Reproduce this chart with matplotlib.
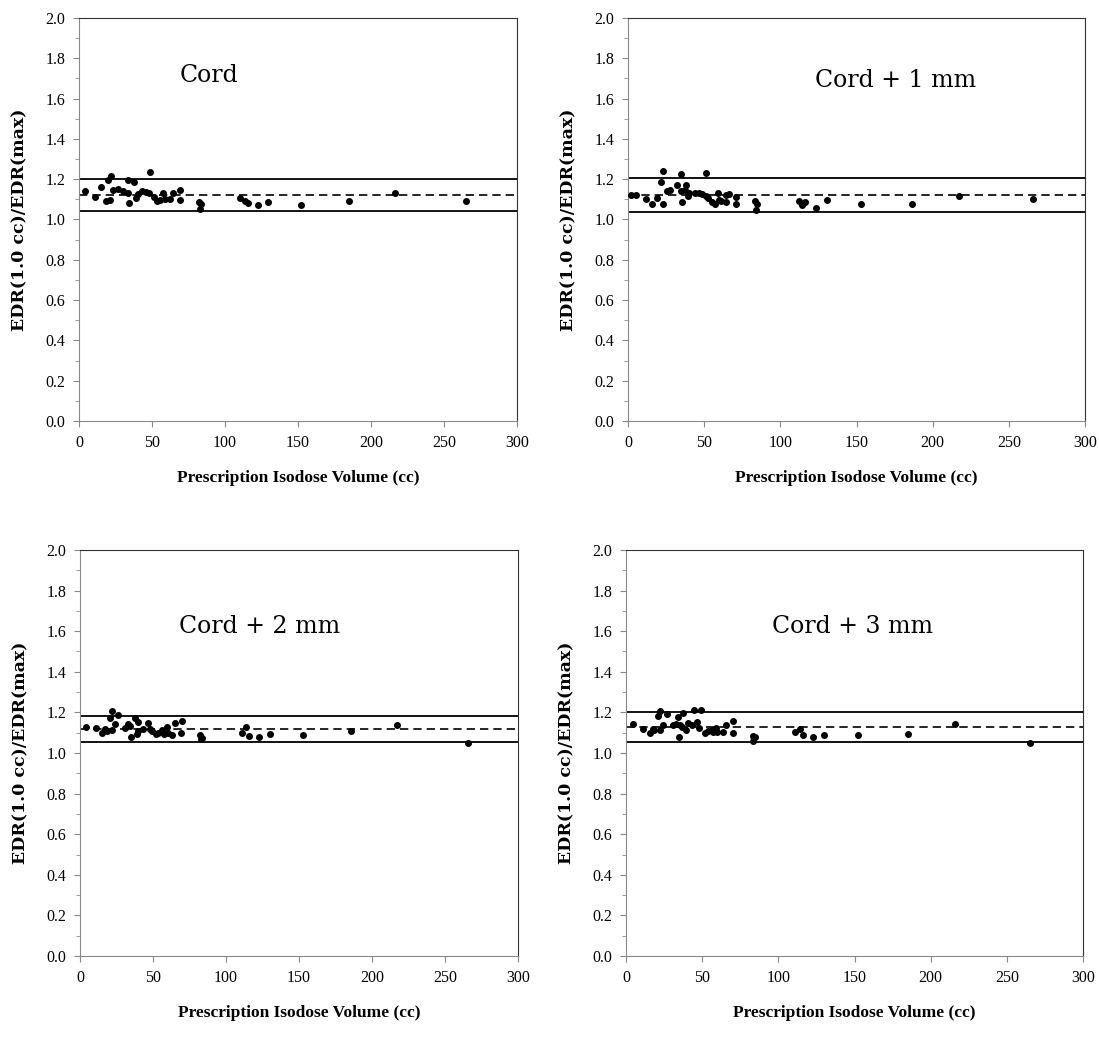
import matplotlib.pyplot as plt
from matplotlib.ticker import MultipleLocator

plt.rcParams['font.family'] = ['Liberation Serif', 'DejaVu Serif']

# --- data ---
titles = ["Cord", "Cord + 1 mm", "Cord + 2 mm", "Cord + 3 mm"]

x_cord = [4.1, 11, 15, 18.3, 20, 21.7, 21.2, 23.5, 26.5, 30.3, 33.8, 33.8, 34.5, 37.7,
          39, 40.6, 42.9, 45.7, 48.6, 48, 51.6, 53.2, 55.5, 57.7, 58.8, 62.3, 64.6,
          69.4, 69.4, 82.2, 83.6, 82.9, 110.3, 113.7, 116, 122.4, 129.2, 152, 185,
          216.4, 264.9]
y_cord = [1.14, 1.11, 1.16, 1.09, 1.195, 1.215, 1.095, 1.145, 1.15, 1.14, 1.195, 1.13,
          1.08, 1.185, 1.105, 1.125, 1.14, 1.135, 1.235, 1.13, 1.11, 1.09, 1.095,
          1.13, 1.10, 1.10, 1.13, 1.145, 1.095, 1.085, 1.075, 1.05, 1.105, 1.09,
          1.08, 1.07, 1.085, 1.07, 1.09, 1.13, 1.09]

x_cord1 = [2, 5.1, 11.8, 16, 18.8, 21.5, 22.8, 22.8, 25.4, 27.5, 32, 34.8, 34.8, 35.6,
           37.4, 38.1, 39.2, 40.3, 44.2, 46.4, 48.6, 51.2, 51.2, 52.7, 54.9, 57.1,
           59.3, 59.9, 61.3, 64.2, 64.6, 66.4, 70.6, 70.6, 83.4, 85, 84, 112, 114.2,
           116.4, 123.4, 130.4, 153, 186.5, 217.5, 265.7]
y_cord1 = [1.12, 1.12, 1.10, 1.075, 1.105, 1.185, 1.24, 1.075, 1.14, 1.145, 1.17,
           1.225, 1.14, 1.085, 1.145, 1.17, 1.115, 1.13, 1.13, 1.13, 1.125, 1.23,
           1.115, 1.105, 1.085, 1.075, 1.13, 1.095, 1.09, 1.085, 1.12, 1.125, 1.11,
           1.075, 1.09, 1.075, 1.045, 1.09, 1.07, 1.085, 1.055, 1.095, 1.075, 1.075,
           1.115, 1.10]

x_cord2 = [4.1, 10.7, 15.3, 17.1, 18.3, 20.5, 21.7, 21.7, 24, 26.2, 30.8, 33.1, 34.2,
           34.9, 37.7, 39.9, 38.8, 39.9, 43.4, 46.4, 47.9, 49.4, 51.8, 53.3, 56,
           57.8, 59.4, 60.1, 62.8, 65.1, 69.6, 69.2, 82.2, 83.3, 82.9, 110.7, 113.5,
           116, 122.8, 130.1, 152.5, 185.6, 216.9, 265.5]
y_cord2 = [1.13, 1.125, 1.10, 1.12, 1.11, 1.17, 1.205, 1.115, 1.145, 1.185, 1.125,
           1.145, 1.135, 1.08, 1.17, 1.155, 1.095, 1.11, 1.12, 1.15, 1.12, 1.11,
           1.095, 1.10, 1.115, 1.095, 1.13, 1.10, 1.09, 1.15, 1.16, 1.10, 1.09,
           1.075, 1.07, 1.10, 1.13, 1.085, 1.08, 1.095, 1.09, 1.11, 1.14, 1.05]

x_cord3 = [4.4, 11.4, 15.8, 17.9, 18.6, 20.8, 22.3, 22.1, 24.5, 26.7, 31, 32.6, 34.3,
           35.4, 34.9, 37.6, 36.6, 39.4, 40.9, 43.1, 44.6, 46.8, 48.1, 49.2, 51.9,
           54.1, 56.3, 57.4, 59.1, 60, 63.5, 65.6, 70, 70.5, 83.1, 84.6, 83.1, 110.9,
           114.2, 116.3, 123, 130, 152, 185, 216, 265]
y_cord3 = [1.145, 1.12, 1.10, 1.12, 1.115, 1.18, 1.205, 1.115, 1.14, 1.19, 1.14,
           1.145, 1.175, 1.14, 1.08, 1.195, 1.13, 1.115, 1.15, 1.14, 1.21, 1.155,
           1.125, 1.21, 1.10, 1.11, 1.115, 1.105, 1.125, 1.105, 1.105, 1.14, 1.10,
           1.16, 1.085, 1.08, 1.06, 1.105, 1.12, 1.09, 1.08, 1.09, 1.09, 1.095,
           1.145, 1.05]

# upper limit, mean, lower limit for each panel
upper = [1.20, 1.205, 1.18, 1.20]
mean = [1.12, 1.12, 1.118, 1.127]
lower = [1.04, 1.035, 1.053, 1.053]

xs = [x_cord, x_cord1, x_cord2, x_cord3]
ys = [y_cord, y_cord1, y_cord2, y_cord3]
title_pos = [(69, 1.68), (123, 1.66), (68, 1.59), (96, 1.59)]

fig = plt.figure(figsize=(10.99, 10.53), dpi=100)
boxes = [[0.0719, 0.6002, 0.3985, 0.3827],
         [0.5714, 0.6002, 0.4159, 0.3827],
         [0.0728, 0.0921, 0.3985, 0.3856],
         [0.5696, 0.0921, 0.4159, 0.3856]]

for i in range(4):
    ax = fig.add_axes(boxes[i])
    ax.plot(xs[i], ys[i], 'o', color='black', markersize=4, zorder=3)
    ax.axhline(upper[i], color='black', lw=1.3)
    ax.axhline(lower[i], color='black', lw=1.3)
    ax.axhline(mean[i], color='black', lw=1.2, ls=(0, (5, 3)))
    ax.set_xlim(0, 300)
    ax.set_ylim(0, 2.0)
    ax.xaxis.set_major_locator(MultipleLocator(50))
    ax.yaxis.set_major_locator(MultipleLocator(0.2))
    ax.yaxis.set_minor_locator(MultipleLocator(0.1))
    ax.yaxis.set_major_formatter(plt.FormatStrFormatter('%.1f'))
    ax.tick_params(labelsize=11.5, direction='out', length=4, color='#888888', pad=6)
    ax.tick_params(axis='y', which='minor', length=3, color='#888888')
    ax.spines['left'].set_color('#888888')
    ax.spines['bottom'].set_color('#888888')
    ax.spines['top'].set_color('#333333')
    ax.spines['right'].set_color('#333333')
    ax.text(title_pos[i][0], title_pos[i][1], titles[i], fontsize=17,
            family=['DejaVu Serif'])
    ax.set_xlabel('Prescription Isodose Volume (cc)', fontsize=12.5,
                  fontweight='bold', labelpad=14)
    ax.set_ylabel('EDR(1.0 cc)/EDR(max)', fontsize=12.5, fontweight='bold',
                  family=['DejaVu Serif'], labelpad=12)

fig.savefig('out.png', dpi=100)
